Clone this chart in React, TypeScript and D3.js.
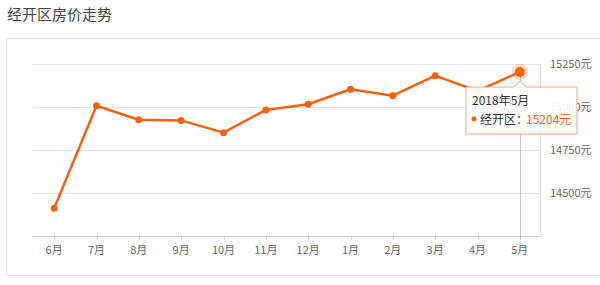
import React from "react";
import * as d3 from "d3";

const months = ["6月", "7月", "8月", "9月", "10月", "11月", "12月", "1月", "2月", "3月", "4月", "5月"];
const prices = [14411, 15007, 14926, 14922, 14851, 14983, 15016, 15103, 15066, 15182, 15093, 15204];
const yTicks = [14250, 14500, 14750, 15000, 15250];
const title = "经开区房价走势";
const seriesName = "经开区";
const tooltipTitle = "2018年5月";

const W = 600, H = 285;
const M = { left: 33, right: 541, top: 64, bottom: 236 };
const ORANGE = "#f5620f";
const FONT = "'Noto Sans CJK SC', 'Noto Sans', sans-serif";

export default function App() {
  const x = d3.scaleBand<string>().domain(months).range([M.left, M.right]);
  const y = d3.scaleLinear().domain([14250, 15250]).range([M.bottom, M.top]);
  const cx = (m: string) => (x(m) as number) + x.bandwidth() / 2;
  const line = d3.line<number>().x((_, i) => cx(months[i])).y((d) => y(d));
  const hi = prices.length - 1;
  const hx = cx(months[hi]);
  const hy = y(prices[hi]);
  const tipL = 466, tipT = 87, tipW = 111, tipH = 47;

  return (
    <svg width={W} height={H} style={{ position: "absolute", left: 0, top: 0, fontFamily: FONT }}>
      <rect x={0} y={0} width={W} height={H} fill="#fff" />
      <text x={7} y={20} fontSize={15} fill="#444">{title}</text>
      <rect x={6.5} y={38.5} width={600} height={237} fill="#fff" stroke="#e4e4e4" rx={2} />
      {yTicks.slice(1).map((t) => (
        <line key={t} x1={M.left} x2={M.right} y1={Math.round(y(t)) + 0.5} y2={Math.round(y(t)) + 0.5} stroke="#e3e3e3" />
      ))}
      <line x1={M.right - 0.5} x2={M.right - 0.5} y1={M.top} y2={M.bottom} stroke="#e3e3e3" />
      <line x1={M.left} x2={M.right} y1={M.bottom + 0.5} y2={M.bottom + 0.5} stroke="#d0d0d0" />
      {months.map((m) => (
        <g key={m}>
          <line x1={Math.round(cx(m)) + 0.5} x2={Math.round(cx(m)) + 0.5} y1={M.bottom} y2={M.bottom + 4} stroke="#d0d0d0" />
          <text x={cx(m)} y={254} fontSize={11} fill="#666" textAnchor="middle">{m}</text>
        </g>
      ))}
      {yTicks.slice(1).map((t) => (
        <text key={t} x={550} y={y(t) + 4} fontSize={11} fill="#666">{t}元</text>
      ))}
      <line x1={Math.round(hx) + 0.5} x2={Math.round(hx) + 0.5} y1={hy} y2={M.bottom + 4} stroke="#c8c8c8" />
      <path d={line(prices) || ""} fill="none" stroke={ORANGE} strokeWidth={2.5} strokeLinejoin="round" />
      {prices.slice(0, hi).map((p, i) => (
        <circle key={i} cx={cx(months[i])} cy={y(p)} r={3.5} fill={ORANGE} />
      ))}
      <circle cx={hx} cy={hy} r={8} fill={ORANGE} opacity={0.25} />
      <circle cx={hx} cy={hy} r={5} fill={ORANGE} />
      <g>
        <path
          d={`M${tipL},${tipT} H${hx - 6} L${hx},${tipT - 6} L${hx + 6},${tipT} H${tipL + tipW} V${tipT + tipH} H${tipL} Z`}
          fill="rgba(255,255,255,0.92)"
          stroke="#f3a877"
          strokeWidth={1}
        />
        <text x={tipL + 6} y={tipT + 18} fontSize={12} fill="#333">{tooltipTitle}</text>
        <circle cx={tipL + 8} cy={tipT + 32} r={2.5} fill={ORANGE} />
        <text x={tipL + 14} y={tipT + 37} fontSize={12} fill="#333">{seriesName}：</text>
        <text x={tipL + 60} y={tipT + 37} fontSize={12} fill={ORANGE}>{prices[hi]}元</text>
      </g>
    </svg>
  );
}
